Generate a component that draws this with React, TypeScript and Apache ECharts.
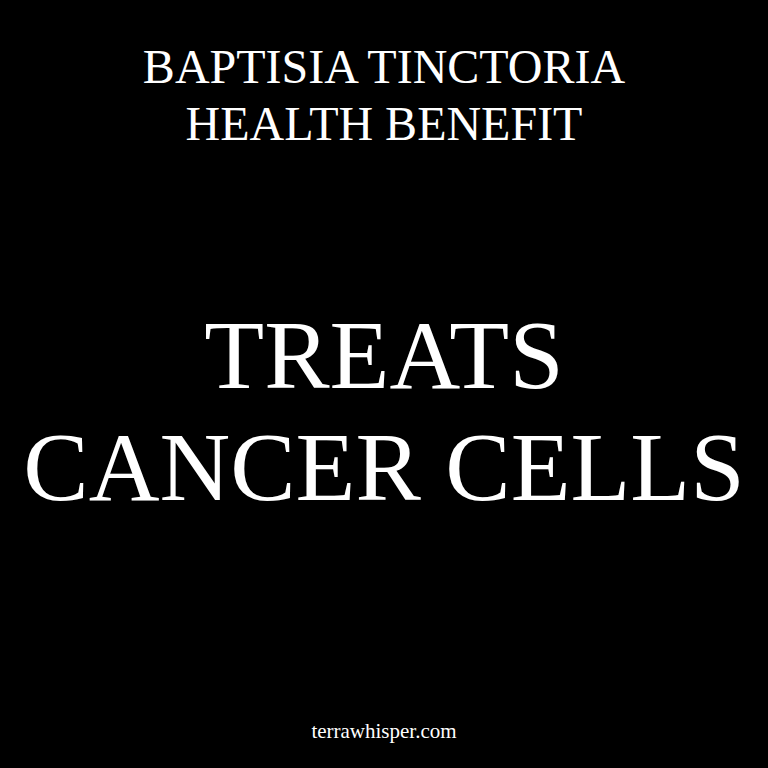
import { useEffect, useRef } from 'react';
import * as echarts from 'echarts';

// Text lines of the card
const headerLines = ['BAPTISIA TINCTORIA', 'HEALTH BENEFIT'];
const mainLines = ['TREATS', 'CANCER CELLS'];
const footer = 'terrawhisper.com';

const font = '"Liberation Serif", "DejaVu Serif", serif';

export default function App() {
    const chartRef = useRef<HTMLDivElement>(null);

    useEffect(() => {
        document.body.style.margin = '0';
        if (!chartRef.current) return;
        const chart = echarts.init(chartRef.current, null, { renderer: 'svg' });

        const line = (text: string, y: number, size: number) => ({
            type: 'text',
            x: 384,
            y,
            style: {
                text,
                fill: '#ffffff',
                font: `${size}px ${font}`,
                textAlign: 'center',
                textVerticalAlign: 'middle',
            },
        });

        chart.setOption({
            animation: false,
            backgroundColor: '#000000',
            graphic: [
                line(headerLines[0], 66, 48),
                line(headerLines[1], 123, 48),
                line(mainLines[0], 355, 98),
                line(mainLines[1], 467, 98),
                line(footer, 731, 21),
            ],
        });

        return () => chart.dispose();
    }, []);

    return <div ref={chartRef} style={{ width: 768, height: 768 }} />;
}
